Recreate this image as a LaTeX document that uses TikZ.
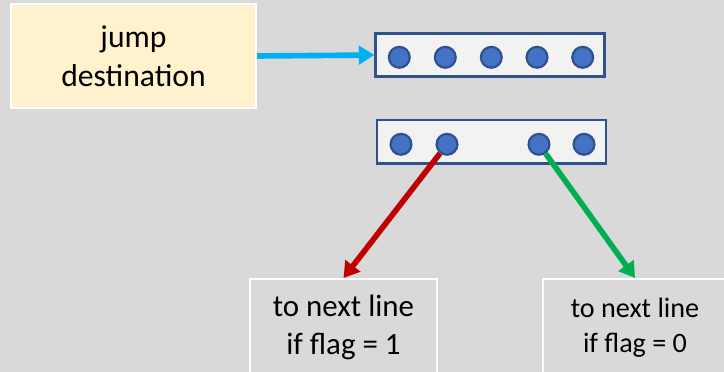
\documentclass[tikz,border=0pt]{standalone}
\usepackage{fontspec}
\setmainfont{Carlito}
\usetikzlibrary{arrows.meta}
\definecolor{backgray}{HTML}{D9D9D9}
\definecolor{notefill}{HTML}{FFF2CC}
\definecolor{barfill}{HTML}{F2F2F2}
\definecolor{bardraw}{HTML}{2F528F}
\definecolor{dotfill}{HTML}{4472C4}
\definecolor{jumpblue}{HTML}{00B0F0}
\definecolor{flagred}{HTML}{C00000}
\definecolor{flaggreen}{HTML}{00B050}
\tikzset{
  textbox/.style={draw=white, line width=1.4pt, align=center, inner sep=0pt},
  bar/.style={draw=bardraw, fill=barfill, line width=2pt, minimum height=1.085cm, inner sep=0pt},
  dot/.style={circle, draw=bardraw, fill=dotfill, line width=1.6pt, minimum size=0.52cm, inner sep=0pt},
  jumparrow/.style={line width=4pt, -{Triangle[length=11pt,width=13pt]}}
}
\begin{document}
\begin{tikzpicture}[x=0.025cm, y=-0.025cm]
\fill[backgray] (0,0) rectangle (724,372);
\useasboundingbox (0,0) rectangle (724,372);
\clip (0,0) rectangle (724,372);

\node[textbox, fill=notefill, minimum width=6.125cm, minimum height=2.6cm,
  font=\fontsize{22.5}{27.5}\selectfont] (jump) at (133.5,56) {jump\\destination};

\node[bar, minimum width=5.715cm] (top) at (490,55) {};
\foreach \i/\x in {1/399.3, 2/445.3, 3/491.3, 4/537, 5/582.7}
  \node[dot] (t\i) at (\x,57.3) {};

\node[bar, minimum width=5.725cm] (bottom) at (491.5,141.7) {};
\foreach \i/\x in {1/401, 2/447, 3/539, 4/584}
  \node[dot] (b\i) at (\x,144.3) {};

\node[textbox, fill=backgray, minimum width=4.675cm, minimum height=2.425cm,
  font=\fontsize{22}{27.5}\selectfont] (one) at (343.5,327.5) {to next line\\if flag = 1};
\node[textbox, fill=backgray, minimum width=4.6cm, minimum height=2.425cm,
  font=\fontsize{20}{25}\selectfont] (zero) at (635,327.5) {to next line\\if flag = 0};

\draw[jumparrow, jumpblue] (jump.east) -- (top.west);
\draw[jumparrow, flagred] (b2) -- (one.north);
\draw[jumparrow, flaggreen] (b3) -- (zero.north);
\end{tikzpicture}
\end{document}
